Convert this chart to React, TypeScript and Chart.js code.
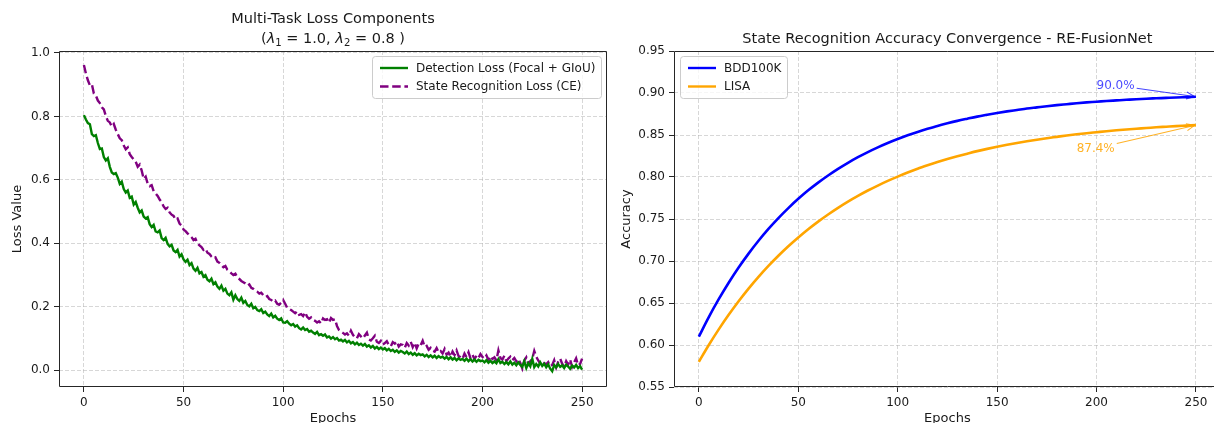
import React, { useEffect, useRef } from "react";
import { Chart, registerables } from "chart.js";

Chart.register(...registerables);

const FONT = "'DejaVu Sans', 'Liberation Sans', sans-serif";

// ---------- Left chart data ----------
const epochs = Array.from({ length: 251 }, (_, i) => i);
const xTicks = [0, 50, 100, 150, 200, 250];
const lossTicks = [0, 0.2, 0.4, 0.6, 0.8, 1.0];

const detectionLoss = [
  0.804, 0.790, 0.779, 0.775, 0.744, 0.738, 0.741, 0.716, 0.697, 0.699,
  0.672, 0.661, 0.668, 0.641, 0.623, 0.618, 0.621, 0.607, 0.587, 0.594,
  0.571, 0.560, 0.566, 0.543, 0.547, 0.522, 0.530, 0.512, 0.497, 0.503,
  0.484, 0.478, 0.482, 0.460, 0.451, 0.458, 0.437, 0.434, 0.440, 0.416,
  0.410, 0.417, 0.398, 0.390, 0.395, 0.377, 0.372, 0.379, 0.358, 0.365,
  0.349, 0.341, 0.348, 0.331, 0.337, 0.320, 0.313, 0.322, 0.305, 0.309,
  0.294, 0.299, 0.285, 0.280, 0.288, 0.271, 0.277, 0.263, 0.256, 0.266,
  0.250, 0.256, 0.241, 0.236, 0.245, 0.222, 0.236, 0.224, 0.218, 0.228,
  0.212, 0.218, 0.205, 0.201, 0.209, 0.195, 0.199, 0.189, 0.186, 0.192,
  0.180, 0.184, 0.175, 0.170, 0.178, 0.166, 0.171, 0.162, 0.158, 0.163,
  0.150, 0.149, 0.154, 0.146, 0.141, 0.145, 0.137, 0.141, 0.132, 0.128,
  0.134, 0.126, 0.129, 0.121, 0.124, 0.118, 0.114, 0.120, 0.110, 0.113,
  0.108, 0.112, 0.103, 0.106, 0.099, 0.104, 0.097, 0.101, 0.093, 0.096,
  0.090, 0.095, 0.087, 0.092, 0.084, 0.088, 0.081, 0.086, 0.079, 0.083,
  0.077, 0.082, 0.074, 0.078, 0.071, 0.076, 0.068, 0.073, 0.066, 0.071,
  0.065, 0.069, 0.062, 0.067, 0.060, 0.064, 0.057, 0.062, 0.055, 0.060,
  0.057, 0.052, 0.058, 0.050, 0.055, 0.048, 0.053, 0.046, 0.051, 0.047,
  0.049, 0.043, 0.048, 0.041, 0.046, 0.040, 0.045, 0.038, 0.044, 0.039,
  0.042, 0.036, 0.041, 0.034, 0.040, 0.033, 0.038, 0.031, 0.037, 0.032,
  0.035, 0.029, 0.036, 0.028, 0.034, 0.027, 0.033, 0.026, 0.032, 0.028,
  0.030, 0.024, 0.031, 0.023, 0.029, 0.022, 0.027, 0.021, 0.034, 0.022,
  0.026, 0.019, 0.025, 0.018, 0.027, 0.017, 0.023, 0.015, 0.024, 0.016,
  0.010, 0.028, 0.006, 0.022, 0.012, 0.035, 0.009, 0.019, 0.011, 0.024,
  0.013, 0.020, 0.009, 0.018, 0.004, -0.004, 0.016, 0.008, 0.019, 0.010,
  0.015, 0.006, 0.017, 0.011, 0.004, 0.014, 0.008, 0.016, 0.006, 0.012,
  0.001,
];

const stateLoss = [
  0.962, 0.935, 0.914, 0.898, 0.901, 0.872, 0.866, 0.850, 0.842, 0.829,
  0.822, 0.801, 0.786, 0.781, 0.768, 0.776, 0.758, 0.744, 0.731, 0.725,
  0.708, 0.696, 0.702, 0.681, 0.672, 0.664, 0.657, 0.641, 0.648, 0.629,
  0.603, 0.610, 0.588, 0.580, 0.583, 0.564, 0.557, 0.549, 0.538, 0.530,
  0.516, 0.508, 0.512, 0.497, 0.490, 0.486, 0.474, 0.478, 0.462, 0.456,
  0.443, 0.438, 0.431, 0.425, 0.419, 0.410, 0.414, 0.400, 0.393, 0.388,
  0.379, 0.383, 0.370, 0.366, 0.358, 0.352, 0.355, 0.342, 0.338, 0.331,
  0.324, 0.328, 0.316, 0.311, 0.305, 0.300, 0.304, 0.292, 0.287, 0.281,
  0.277, 0.273, 0.266, 0.270, 0.259, 0.256, 0.250, 0.247, 0.241, 0.244,
  0.236, 0.230, 0.233, 0.224, 0.221, 0.215, 0.219, 0.209, 0.206, 0.212,
  0.221, 0.209, 0.196, 0.193, 0.189, 0.184, 0.179, 0.185, 0.174, 0.176,
  0.170, 0.182, 0.168, 0.162, 0.166, 0.158, 0.155, 0.150, 0.154, 0.147,
  0.163, 0.158, 0.160, 0.149, 0.164, 0.158, 0.160, 0.139, 0.126, 0.121,
  0.117, 0.112, 0.116, 0.108, 0.124, 0.111, 0.103, 0.100, 0.113, 0.106,
  0.100, 0.109, 0.118, 0.097, 0.093, 0.100, 0.108, 0.089, 0.085, 0.092,
  0.080, 0.085, 0.091, 0.079, 0.075, 0.088, 0.083, 0.090, 0.074, 0.081,
  0.079, 0.070, 0.085, 0.077, 0.089, 0.072, 0.086, 0.068, 0.083, 0.078,
  0.092, 0.073, 0.076, 0.064, 0.070, 0.061, 0.058, 0.069, 0.056, 0.060,
  0.052, 0.066, 0.048, 0.055, 0.042, 0.058, 0.047, 0.062, 0.044, 0.040,
  0.035, 0.052, 0.041, 0.056, 0.037, 0.048, 0.034, 0.045, 0.038, 0.050,
  0.041, 0.036, 0.046, 0.032, 0.044, 0.035, 0.040, 0.030, 0.062, 0.038,
  0.033, 0.045, 0.028, 0.036, 0.042, 0.031, 0.038, 0.027, 0.035, 0.022,
  0.005, 0.030, 0.040, 0.018, 0.028, 0.035, 0.060, 0.042, 0.030, 0.020,
  0.014, 0.022, 0.018, 0.025, 0.012, 0.016, 0.031, 0.008, 0.026, 0.036,
  0.020, 0.011, 0.028, 0.017, 0.033, 0.010, 0.024, 0.037, 0.015, 0.019,
  0.036,
];

// ---------- Right chart data ----------
const accEpochs = [
  0, 5, 10, 15, 20, 25, 30, 35, 40, 45, 50, 55, 60, 65, 70, 75, 80, 85, 90, 95,
  100, 105, 110, 115, 120, 125, 130, 135, 140, 145, 150, 155, 160, 165, 170, 175,
  180, 185, 190, 195, 200, 205, 210, 215, 220, 225, 230, 235, 240, 245, 250,
];
const bddAcc = [
  0.610, 0.6332, 0.6545, 0.6741, 0.6922, 0.7088, 0.7241, 0.7382, 0.7511, 0.7630,
  0.7740, 0.7841, 0.7933, 0.8018, 0.8097, 0.8169, 0.8236, 0.8297, 0.8353, 0.8405,
  0.8452, 0.8496, 0.8536, 0.8573, 0.8608, 0.8639, 0.8668, 0.8694, 0.8719, 0.8741,
  0.8762, 0.8781, 0.8798, 0.8815, 0.8829, 0.8843, 0.8856, 0.8867, 0.8878, 0.8888,
  0.8896, 0.8905, 0.8912, 0.8919, 0.8926, 0.8932, 0.8937, 0.8942, 0.8947, 0.8951,
  0.8955,
];
const lisaAcc = [
  0.580, 0.6000, 0.6186, 0.6359, 0.6521, 0.6671, 0.6811, 0.6941, 0.7062, 0.7175,
  0.7280, 0.7378, 0.7469, 0.7554, 0.7633, 0.7707, 0.7775, 0.7839, 0.7898, 0.7954,
  0.8005, 0.8053, 0.8098, 0.8139, 0.8178, 0.8214, 0.8247, 0.8278, 0.8308, 0.8335,
  0.8360, 0.8383, 0.8405, 0.8425, 0.8444, 0.8462, 0.8478, 0.8494, 0.8508, 0.8521,
  0.8533, 0.8545, 0.8556, 0.8566, 0.8575, 0.8583, 0.8592, 0.8599, 0.8606, 0.8612,
  0.8618,
];
const accTicks = [0.55, 0.6, 0.65, 0.7, 0.75, 0.8, 0.85, 0.9, 0.95];

const annotationLabels = ["90.0%", "87.4%"];
const annotationTextX = [200, 190];
const annotationTextY = [0.905, 0.83];
const annotationColors = ["rgba(0,0,255,0.72)", "rgba(255,165,0,0.85)"];

// ---------- helpers ----------
const TEXT = "#1a1a1a";
const SPINE = "#262626";
const GRID = "rgba(176,176,176,0.5)";

type LegendItem = { label: string; color: string; dash: number[] };

function makeAxes(opts: {
  xTicks: number[];
  yTicks: number[];
  yMin: number;
  yMax: number;
  yDigits: number;
  yWidth: number;
  yTitle: string;
  yTitlePad: number;
}) {
  const gridCommon = {
    color: GRID,
    lineWidth: 1,
    drawTicks: true,
    tickLength: 5,
    tickColor: SPINE,
    tickWidth: 1,
  };
  return {
    x: {
      type: "linear" as const,
      min: -12.5,
      max: 262.5,
      afterBuildTicks: (s: any) => {
        s.ticks = opts.xTicks.map((v) => ({ value: v }));
      },
      afterFit: (s: any) => {
        s.height = 36;
      },
      ticks: {
        color: TEXT,
        padding: 4,
        font: { family: FONT, size: 12 },
        maxRotation: 0,
        callback: (v: any) => String(v),
      },
      grid: gridCommon,
      border: { display: false, dash: [4, 2] },
      title: {
        display: true,
        text: "Epochs",
        color: TEXT,
        font: { family: FONT, size: 13 },
        padding: { top: 0, bottom: -3 },
      },
    },
    y: {
      type: "linear" as const,
      min: opts.yMin,
      max: opts.yMax,
      afterBuildTicks: (s: any) => {
        s.ticks = opts.yTicks.map((v) => ({ value: v }));
      },
      afterFit: (s: any) => {
        s.width = opts.yWidth;
      },
      ticks: {
        color: TEXT,
        padding: 4,
        font: { family: FONT, size: 12 },
        callback: (v: any) => Number(v).toFixed(opts.yDigits),
      },
      grid: gridCommon,
      border: { display: false, dash: [4, 2] },
      title: {
        display: true,
        text: opts.yTitle,
        color: TEXT,
        font: { family: FONT, size: 13 },
        padding: { top: opts.yTitlePad, bottom: 0 },
      },
    },
  };
}

function drawFrame(chart: any) {
  const { ctx, chartArea } = chart;
  const l = Math.round(chartArea.left) + 0.5;
  const t = Math.round(chartArea.top) + 0.5;
  const r = Math.round(chartArea.right) - 0.5;
  const b = Math.round(chartArea.bottom) - 0.5;
  ctx.save();
  ctx.strokeStyle = SPINE;
  ctx.lineWidth = 1;
  ctx.setLineDash([]);
  ctx.beginPath();
  ctx.rect(l, t, r - l, b - t);
  ctx.stroke();
  ctx.restore();
}

function drawLegend(chart: any, items: LegendItem[], side: "left" | "right") {
  const { ctx, chartArea } = chart;
  ctx.save();
  ctx.font = `12px ${FONT}`;
  let maxW = 0;
  items.forEach((it) => (maxW = Math.max(maxW, ctx.measureText(it.label).width)));
  const w = Math.round(43 + maxW + 7);
  const h = 42;
  const top = Math.round(chartArea.top) + 5;
  const left =
    side === "left" ? Math.round(chartArea.left) + 6 : Math.round(chartArea.right) - 6 - w;
  ctx.beginPath();
  ctx.roundRect(left + 0.5, top + 0.5, w, h, 3);
  ctx.fillStyle = "rgba(255,255,255,0.8)";
  ctx.fill();
  ctx.strokeStyle = "#cccccc";
  ctx.lineWidth = 1;
  ctx.stroke();
  items.forEach((it, i) => {
    const cy = top + 12 + i * 18.5;
    ctx.beginPath();
    ctx.setLineDash(it.dash);
    ctx.strokeStyle = it.color;
    ctx.lineWidth = 2.4;
    ctx.moveTo(left + 8, cy);
    ctx.lineTo(left + 36, cy);
    ctx.stroke();
    ctx.setLineDash([]);
    ctx.fillStyle = TEXT;
    ctx.textBaseline = "middle";
    ctx.textAlign = "left";
    ctx.fillText(it.label, left + 44, cy + 0.5);
  });
  ctx.restore();
}

function drawTitleLines(chart: any, lines: { baseline: number; parts: { t: string; italic?: boolean; sub?: boolean }[] }[]) {
  const { ctx, chartArea } = chart;
  const cx = (chartArea.left + chartArea.right) / 2;
  const size = 14.5;
  ctx.save();
  ctx.fillStyle = TEXT;
  ctx.textBaseline = "alphabetic";
  ctx.textAlign = "left";
  lines.forEach((line) => {
    const fontOf = (p: any) =>
      `${p.italic ? "italic " : ""}${p.sub ? size * 0.7 : size}px ${FONT}`;
    let total = 0;
    const widths = line.parts.map((p) => {
      ctx.font = fontOf(p);
      const w = ctx.measureText(p.t).width;
      total += w;
      return w;
    });
    let x = cx - total / 2;
    line.parts.forEach((p, i) => {
      ctx.font = fontOf(p);
      ctx.fillText(p.t, x, line.baseline + (p.sub ? 3 : 0));
      x += widths[i];
    });
  });
  ctx.restore();
}

function drawAnnotations(chart: any) {
  const { ctx } = chart;
  const xs = chart.scales.x;
  const ys = chart.scales.y;
  const targets = [
    { x: accEpochs[accEpochs.length - 1], y: bddAcc[bddAcc.length - 1] },
    { x: accEpochs[accEpochs.length - 1], y: lisaAcc[lisaAcc.length - 1] },
  ];
  ctx.save();
  ctx.font = `12px ${FONT}`;
  annotationLabels.forEach((label, i) => {
    const px = xs.getPixelForValue(annotationTextX[i]);
    const py = ys.getPixelForValue(annotationTextY[i]);
    const color = annotationColors[i];
    ctx.fillStyle = color;
    ctx.textAlign = "left";
    ctx.textBaseline = "alphabetic";
    ctx.fillText(label, px, py);
    const w = ctx.measureText(label).width;
    const bx0 = px - 2, bx1 = px + w + 2, by0 = py - 11, by1 = py + 4;
    const cx = (bx0 + bx1) / 2, cy = (by0 + by1) / 2;
    const tx = xs.getPixelForValue(targets[i].x);
    const ty = ys.getPixelForValue(targets[i].y);
    const dx = tx - cx, dy = ty - cy;
    let tExit = Infinity;
    if (dx !== 0) tExit = Math.min(tExit, ((dx > 0 ? bx1 : bx0) - cx) / dx);
    if (dy !== 0) tExit = Math.min(tExit, ((dy > 0 ? by1 : by0) - cy) / dy);
    const sx = cx + dx * tExit, sy = cy + dy * tExit;
    const len = Math.hypot(tx - sx, ty - sy);
    const ux = (tx - sx) / len, uy = (ty - sy) / len;
    const ex = tx - ux * 1.5, ey = ty - uy * 1.5;
    ctx.strokeStyle = color;
    ctx.lineWidth = 1.1;
    ctx.beginPath();
    ctx.moveTo(sx, sy);
    ctx.lineTo(ex, ey);
    ctx.stroke();
    const hl = 8, hw = 3.5;
    ctx.beginPath();
    ctx.moveTo(ex - ux * hl - uy * hw, ey - uy * hl + ux * hw);
    ctx.lineTo(ex, ey);
    ctx.lineTo(ex - ux * hl + uy * hw, ey - uy * hl - ux * hw);
    ctx.stroke();
  });
  ctx.restore();
}

export default function App() {
  const leftRef = useRef<HTMLCanvasElement>(null);
  const rightRef = useRef<HTMLCanvasElement>(null);

  useEffect(() => {
    const leftPlugin = {
      id: "leftDecor",
      afterDraw(chart: any) {
        drawFrame(chart);
        drawTitleLines(chart, [
          { baseline: 23, parts: [{ t: "Multi-Task Loss Components" }] },
          {
            baseline: 43,
            parts: [
              { t: "(" },
              { t: "λ", italic: true },
              { t: "1", sub: true },
              { t: " = 1.0, " },
              { t: "λ", italic: true },
              { t: "2", sub: true },
              { t: " = 0.8 )" },
            ],
          },
        ]);
        drawLegend(
          chart,
          [
            { label: "Detection Loss (Focal + GIoU)", color: "green", dash: [] },
            { label: "State Recognition Loss (CE)", color: "purple", dash: [8.5, 3.7] },
          ],
          "right"
        );
      },
    };
    const rightPlugin = {
      id: "rightDecor",
      afterDraw(chart: any) {
        drawFrame(chart);
        drawTitleLines(chart, [
          { baseline: 43, parts: [{ t: "State Recognition Accuracy Convergence - RE-FusionNet" }] },
        ]);
        drawAnnotations(chart);
        drawLegend(
          chart,
          [
            { label: "BDD100K", color: "blue", dash: [] },
            { label: "LISA", color: "orange", dash: [] },
          ],
          "left"
        );
      },
    };

    const c1 = new Chart(leftRef.current!, {
      type: "line",
      data: {
        datasets: [
          {
            label: "Detection Loss (Focal + GIoU)",
            data: epochs.map((e, i) => ({ x: e, y: detectionLoss[i] })),
            borderColor: "green",
            borderWidth: 2.4,
            pointRadius: 0,
            tension: 0,
          },
          {
            label: "State Recognition Loss (CE)",
            data: epochs.map((e, i) => ({ x: e, y: stateLoss[i] })),
            borderColor: "purple",
            borderWidth: 2.4,
            borderDash: [8.5, 3.7],
            pointRadius: 0,
            tension: 0,
          },
        ],
      },
      options: {
        animation: false,
        responsive: false,
        devicePixelRatio: 1,
        layout: { padding: { left: 0, right: 3, top: 51, bottom: 0 } },
        plugins: { legend: { display: false }, tooltip: { enabled: false }, title: { display: false } },
        scales: makeAxes({
          xTicks,
          yTicks: lossTicks,
          yMin: -0.0536,
          yMax: 1.0063,
          yDigits: 1,
          yWidth: 59,
          yTitle: "Loss Value",
          yTitlePad: 10,
        }) as any,
      },
      plugins: [leftPlugin],
    } as any);

    const c2 = new Chart(rightRef.current!, {
      type: "line",
      data: {
        datasets: [
          {
            label: "BDD100K",
            data: accEpochs.map((e, i) => ({ x: e, y: bddAcc[i] })),
            borderColor: "blue",
            borderWidth: 2.6,
            pointRadius: 0,
            cubicInterpolationMode: "monotone",
          },
          {
            label: "LISA",
            data: accEpochs.map((e, i) => ({ x: e, y: lisaAcc[i] })),
            borderColor: "orange",
            borderWidth: 2.6,
            pointRadius: 0,
            cubicInterpolationMode: "monotone",
          },
        ],
      },
      options: {
        animation: false,
        responsive: false,
        devicePixelRatio: 1,
        layout: { padding: { left: 0, right: 6.2, top: 51, bottom: 0 } },
        plugins: { legend: { display: false }, tooltip: { enabled: false }, title: { display: false } },
        scales: makeAxes({
          xTicks,
          yTicks: accTicks,
          yMin: 0.55,
          yMax: 0.95,
          yDigits: 2,
          yWidth: 67,
          yTitle: "Accuracy",
          yTitlePad: 12,
        }) as any,
      },
      plugins: [rightPlugin],
    } as any);

    return () => {
      c1.destroy();
      c2.destroy();
    };
  }, []);

  return (
    <div
      style={{
        position: "absolute",
        left: 0,
        top: 0,
        width: 1214,
        height: 423,
        overflow: "hidden",
        background: "#ffffff",
      }}
    >
      <canvas
        ref={leftRef}
        width={610}
        height={423}
        style={{ position: "absolute", left: 0, top: 0, width: 610, height: 423 }}
      />
      <canvas
        ref={rightRef}
        width={620}
        height={423}
        style={{ position: "absolute", left: 607, top: 0, width: 620, height: 423 }}
      />
    </div>
  );
}
